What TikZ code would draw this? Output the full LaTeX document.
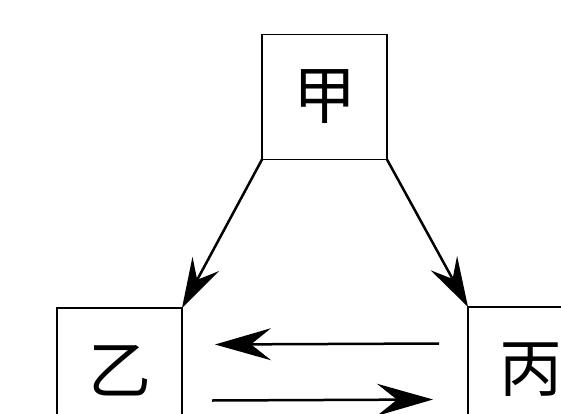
\documentclass[tikz,border=0pt]{standalone}
\usepackage{fontspec}
\newfontfamily\cjk{Noto Sans CJK SC}
\usetikzlibrary{calc, arrows.meta}

\begin{document}
\begin{tikzpicture}[x=1pt, y=-1pt]
    \tikzset{
      party/.style={draw, line width=1.5pt, inner sep=0pt, outer sep=0pt,
        minimum size=125pt, font=\cjk\fontsize{63}{63}\selectfont},
      flow/.style={line width=2.5pt, -{Stealth[length=50pt, width=30pt, inset=18pt]}},
      across/.style={flow, -{Stealth[length=56pt, width=32pt, inset=20pt]}},
    }
    \useasboundingbox (0,0) rectangle (561,414);
    \clip (0,0) rectangle (561,414);
    \node [party] (jia)  at (324.5,97) {\raisebox{-6pt}{甲}};
    \node [party] (yi)   at (119.5,370.5) {\raisebox{-2pt}{乙}};
    \node [party] (bing) at (530.5,369.5) {\raisebox{-3pt}{丙}};

    \draw [flow] (jia.south west) -- (yi.north east);
    \draw [flow] (jia.south east) -- (bing.north west);
    \draw [across] ($ (bing.west) + (-29,-26) $) -- ($ (yi.east) + (33,-26) $);
    \draw [across] ($ (yi.east) + (30,30) $) -- ($ (bing.west) + (-35,30) $);
  \end{tikzpicture}
\end{document}
